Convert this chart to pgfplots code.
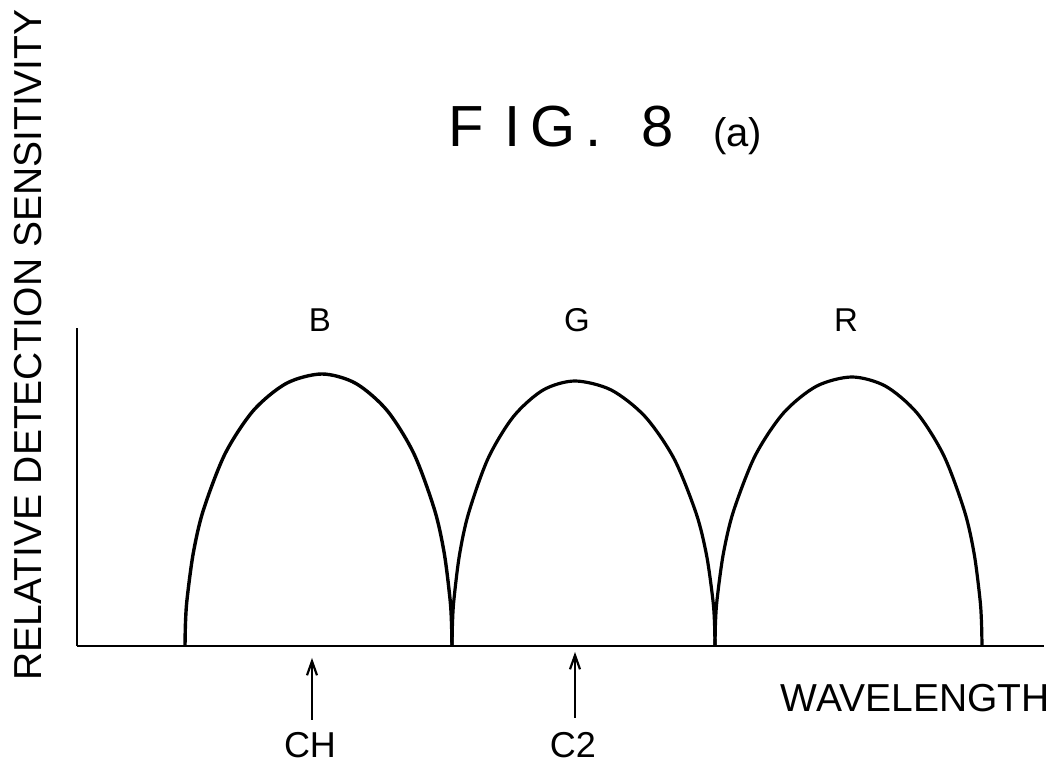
\documentclass[border=0pt]{standalone}
\usepackage{pgfplots}
\pgfplotsset{compat=1.18}
\usepackage{fontspec}
\setmainfont{Liberation Sans}
\usetikzlibrary{arrows.meta}

\pgfplotstableread{
x y
185.0 0
185.5 23.7
187.1 47.2
193.3 93.0
203.4 136.0
225.1 192.3
253.5 235.6
286.5 262.7
322.0 272.0
355.6 262.7
387.0 235.6
413.9 192.3
434.6 136.0
444.2 93.0
450.0 47.2
451.5 23.7
452.0 0
}\bcurve
\pgfplotstableread{
x y
452.0 0
452.5 23.1
453.9 46.0
459.4 90.6
468.5 132.5
488.0 187.4
513.5 229.5
543.2 256.0
575.0 265.0
611.2 256.0
645.0 229.5
674.0 187.4
696.2 132.5
706.6 90.6
712.9 46.0
714.5 23.1
715.0 0
}\gcurve
\pgfplotstableread{
x y
715.0 0
715.5 23.5
717.1 46.7
723.3 92.0
733.4 134.5
755.1 190.2
783.5 233.0
816.5 259.8
852.0 269.0
885.6 259.8
917.0 233.0
943.9 190.2
964.6 134.5
974.2 92.0
980.0 46.7
981.5 23.5
982.0 0
}\rcurve

\begin{document}
\begin{tikzpicture}
\begin{axis}[
  x=0.5pt, y=0.5pt,
  xmin=77, xmax=1044, ymin=0, ymax=318,
  axis lines=left, axis line style={-, line width=1.4pt},
  xtick=\empty, ytick=\empty,
  clip=false,
]
\addplot[line width=1.7pt, smooth] table {\bcurve};
\addplot[line width=1.6pt, smooth] table {\gcurve};
\addplot[line width=1.6pt, smooth] table {\rcurve};

% curve names
\node[font=\fontsize{16.5}{18}\selectfont, anchor=base] at (axis cs:320,314) {B};
\node[font=\fontsize{16.5}{18}\selectfont, anchor=base] at (axis cs:577,314) {G};
\node[font=\fontsize{16.5}{18}\selectfont, anchor=base] at (axis cs:846,314) {R};

% title
\begin{scope}[every node/.style={inner sep=0pt, anchor=base west, font=\fontsize{29}{32}\selectfont}]
\node at (axis cs:448,499) {F};
\node at (axis cs:504,499) {I};
\node at (axis cs:530,499) {G};
\node at (axis cs:585,499) {.};
\node at (axis cs:641,499) {8};
\node[font=\fontsize{20}{22}\selectfont] at (axis cs:713,499) {(a)};
\end{scope}

% axis titles
\node[rotate=90, inner sep=0pt, font=\fontsize{19.5}{21}\selectfont] at (axis cs:28.5,301) {RELATIVE DETECTION SENSITIVITY};
\node[inner sep=0pt, anchor=base east, font=\fontsize{19.5}{21}\selectfont] at (axis cs:1050,-66) {WAVELENGTH};

% channel arrows
\draw[line width=1.1pt, -{Straight Barb[length=7pt, width=5pt]}] (axis cs:312,-74) -- (axis cs:312,-12);
\draw[line width=1.1pt, -{Straight Barb[length=7pt, width=5pt]}] (axis cs:575,-72) -- (axis cs:575,-6);
\node[inner sep=0pt, anchor=base, font=\fontsize{18}{20}\selectfont] at (axis cs:310,-112) {CH};
\node[inner sep=0pt, anchor=base, font=\fontsize{18}{20}\selectfont] at (axis cs:573,-112) {C2};

\coordinate (bbsw) at (axis cs:0,-120);
\coordinate (bbne) at (axis cs:1057,646);
\end{axis}
\pgfresetboundingbox
\path[use as bounding box] (bbsw) rectangle (bbne);
\end{tikzpicture}
\end{document}
